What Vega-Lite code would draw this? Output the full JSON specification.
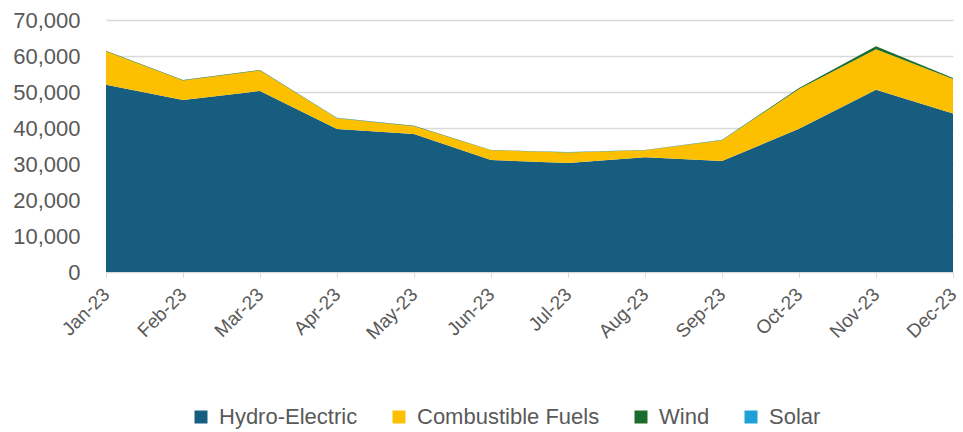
{
  "$schema": "https://vega.github.io/schema/vega-lite/v6.json",
  "width": 847,
  "height": 252,
  "autosize": {"type": "none"},
  "padding": {"left": 106, "top": 20, "right": 10, "bottom": 160},
  "background": "white",
  "data": {
    "values": [
      {"month": "Jan-23", "m": 1, "source": "Hydro-Electric", "o": 1, "value": 52000},
      {"month": "Feb-23", "m": 2, "source": "Hydro-Electric", "o": 1, "value": 47800},
      {"month": "Mar-23", "m": 3, "source": "Hydro-Electric", "o": 1, "value": 50300},
      {"month": "Apr-23", "m": 4, "source": "Hydro-Electric", "o": 1, "value": 39700},
      {"month": "May-23", "m": 5, "source": "Hydro-Electric", "o": 1, "value": 38300},
      {"month": "Jun-23", "m": 6, "source": "Hydro-Electric", "o": 1, "value": 31100},
      {"month": "Jul-23", "m": 7, "source": "Hydro-Electric", "o": 1, "value": 30300},
      {"month": "Aug-23", "m": 8, "source": "Hydro-Electric", "o": 1, "value": 31900},
      {"month": "Sep-23", "m": 9, "source": "Hydro-Electric", "o": 1, "value": 30800},
      {"month": "Oct-23", "m": 10, "source": "Hydro-Electric", "o": 1, "value": 39800},
      {"month": "Nov-23", "m": 11, "source": "Hydro-Electric", "o": 1, "value": 50600},
      {"month": "Dec-23", "m": 12, "source": "Hydro-Electric", "o": 1, "value": 44000},
      {"month": "Jan-23", "m": 1, "source": "Combustible Fuels", "o": 2, "value": 9300},
      {"month": "Feb-23", "m": 2, "source": "Combustible Fuels", "o": 2, "value": 5400},
      {"month": "Mar-23", "m": 3, "source": "Combustible Fuels", "o": 2, "value": 5700},
      {"month": "Apr-23", "m": 4, "source": "Combustible Fuels", "o": 2, "value": 3000},
      {"month": "May-23", "m": 5, "source": "Combustible Fuels", "o": 2, "value": 2200},
      {"month": "Jun-23", "m": 6, "source": "Combustible Fuels", "o": 2, "value": 2700},
      {"month": "Jul-23", "m": 7, "source": "Combustible Fuels", "o": 2, "value": 2900},
      {"month": "Aug-23", "m": 8, "source": "Combustible Fuels", "o": 2, "value": 1900},
      {"month": "Sep-23", "m": 9, "source": "Combustible Fuels", "o": 2, "value": 5800},
      {"month": "Oct-23", "m": 10, "source": "Combustible Fuels", "o": 2, "value": 11000},
      {"month": "Nov-23", "m": 11, "source": "Combustible Fuels", "o": 2, "value": 11300},
      {"month": "Dec-23", "m": 12, "source": "Combustible Fuels", "o": 2, "value": 9600},
      {"month": "Jan-23", "m": 1, "source": "Wind", "o": 3, "value": 150},
      {"month": "Feb-23", "m": 2, "source": "Wind", "o": 3, "value": 120},
      {"month": "Mar-23", "m": 3, "source": "Wind", "o": 3, "value": 120},
      {"month": "Apr-23", "m": 4, "source": "Wind", "o": 3, "value": 100},
      {"month": "May-23", "m": 5, "source": "Wind", "o": 3, "value": 100},
      {"month": "Jun-23", "m": 6, "source": "Wind", "o": 3, "value": 80},
      {"month": "Jul-23", "m": 7, "source": "Wind", "o": 3, "value": 80},
      {"month": "Aug-23", "m": 8, "source": "Wind", "o": 3, "value": 80},
      {"month": "Sep-23", "m": 9, "source": "Wind", "o": 3, "value": 100},
      {"month": "Oct-23", "m": 10, "source": "Wind", "o": 3, "value": 300},
      {"month": "Nov-23", "m": 11, "source": "Wind", "o": 3, "value": 800},
      {"month": "Dec-23", "m": 12, "source": "Wind", "o": 3, "value": 300},
      {"month": "Jan-23", "m": 1, "source": "Solar", "o": 4, "value": 10},
      {"month": "Feb-23", "m": 2, "source": "Solar", "o": 4, "value": 10},
      {"month": "Mar-23", "m": 3, "source": "Solar", "o": 4, "value": 15},
      {"month": "Apr-23", "m": 4, "source": "Solar", "o": 4, "value": 20},
      {"month": "May-23", "m": 5, "source": "Solar", "o": 4, "value": 20},
      {"month": "Jun-23", "m": 6, "source": "Solar", "o": 4, "value": 20},
      {"month": "Jul-23", "m": 7, "source": "Solar", "o": 4, "value": 20},
      {"month": "Aug-23", "m": 8, "source": "Solar", "o": 4, "value": 20},
      {"month": "Sep-23", "m": 9, "source": "Solar", "o": 4, "value": 15},
      {"month": "Oct-23", "m": 10, "source": "Solar", "o": 4, "value": 10},
      {"month": "Nov-23", "m": 11, "source": "Solar", "o": 4, "value": 10},
      {"month": "Dec-23", "m": 12, "source": "Solar", "o": 4, "value": 10}
    ]
  },
  "mark": {"type": "area", "line": false},
  "encoding": {
    "x": {
      "field": "month",
      "type": "ordinal",
      "sort": {"field": "m", "op": "min"},
      "scale": {"type": "point", "padding": 0},
      "axis": {
        "title": null,
        "labelAngle": -45,
        "labelAlign": "right",
        "labelBaseline": "middle",
        "labelFontSize": 19,
        "labelColor": "#595959",
        "labelFont": "Liberation Sans",
        "labelPadding": 14,
        "tickColor": "#d9d9d9",
        "tickSize": 5,
        "domainColor": "#d9d9d9",
        "grid": false,
        "labelBound": false,
        "labelOverlap": false
      }
    },
    "y": {
      "field": "value",
      "type": "quantitative",
      "stack": "zero",
      "scale": {"domain": [0, 70000], "nice": false},
      "axis": {
        "title": null,
        "values": [0, 10000, 20000, 30000, 40000, 50000, 60000, 70000],
        "format": ",.0f",
        "labelFontSize": 22,
        "labelColor": "#595959",
        "labelFont": "Liberation Sans",
        "labelPadding": 26,
        "domain": false,
        "ticks": false,
        "gridColor": "#d9d9d9",
        "gridWidth": 1.5
      }
    },
    "order": {"field": "o", "type": "quantitative"},
    "color": {
      "field": "source",
      "type": "nominal",
      "sort": ["Hydro-Electric", "Combustible Fuels", "Wind", "Solar"],
      "scale": {
        "domain": ["Hydro-Electric", "Combustible Fuels", "Wind", "Solar"],
        "range": ["#175d80", "#fcc000", "#1b6b2c", "#1f9fd8"]
      },
      "legend": {
        "title": null,
        "orient": "none",
        "legendX": 84,
        "legendY": 386,
        "direction": "horizontal",
        "symbolType": "square",
        "symbolSize": 169,
        "symbolStrokeWidth": 0,
        "labelFontSize": 22,
        "labelLimit": 400,
        "labelColor": "#595959",
        "labelFont": "Liberation Sans",
        "columnPadding": 30,
        "labelOffset": 7
      }
    }
  },
  "config": {"view": {"stroke": null}}
}
